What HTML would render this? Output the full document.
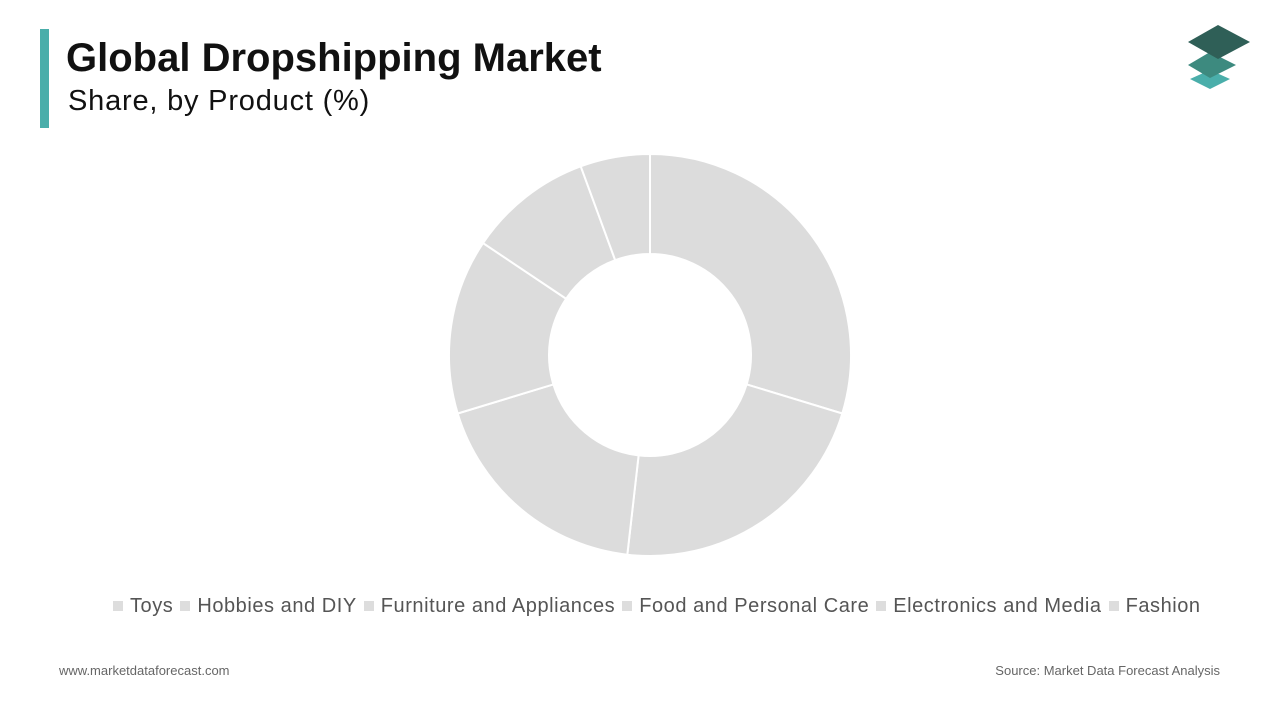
<!DOCTYPE html>
<html><head><meta charset="utf-8">
<style>
body{margin:0;width:1280px;height:720px;background:#fff;font-family:"Liberation Sans",Arial,sans-serif;position:relative;overflow:hidden}
.bar{position:absolute;left:40px;top:29px;width:9px;height:99px;background:#4aaeaa}
.t1{position:absolute;left:66px;top:36px;font-size:40px;font-weight:bold;color:#111}
.t2{position:absolute;left:68px;top:85px;font-size:29px;color:#111;letter-spacing:0.8px}
.legend{position:absolute;top:595px;left:113px;font-size:20px;color:#555;white-space:nowrap;letter-spacing:0.55px}
.li{display:inline-block;margin-right:7px}
.sw{display:inline-block;width:10px;height:10px;background:#ddd;margin-right:7px;vertical-align:1px}
.foot{position:absolute;top:663px;font-size:13px;color:#666}
</style></head><body>
<div class="bar"></div>
<div class="t1">Global Dropshipping Market</div>
<div class="t2">Share, by Product (%)</div>
<svg style="position:absolute;left:1180px;top:20px" width="80" height="75">
<polygon points="30,50 50,59 30,69 10,59" fill="#4aaeaa"/>
<polygon points="30,32 56,45 30,58 8,45" fill="#3d8a7f"/>
<polygon points="38,5 70,22 38,39 8,22" fill="#2f5f57"/>
</svg>
<svg id="chart" style="position:absolute;left:0;top:0" width="1280" height="720"></svg>
<div class="legend" id="legend"></div>
<div class="foot" style="left:59px">www.marketdataforecast.com</div>
<div class="foot" style="right:60px">Source: Market Data Forecast Analysis</div>
<script>
const categories=["Toys","Hobbies and DIY","Furniture and Appliances","Food and Personal Care","Electronics and Media","Fashion"];
const values=[5.6,10.0,14.1,18.5,22.1,29.7];
const drawOrder=[5,4,3,2,1,0];
const svg=document.getElementById('chart');
const cx=650,cy=355,R=201,r=101;
const total=values.reduce((a,b)=>a+b,0);
function pt(a,rad){return [cx+rad*Math.sin(a),cy-rad*Math.cos(a)];}
let acc=0;
drawOrder.forEach(i=>{
  const a0=acc/total*2*Math.PI;acc+=values[i];const a1=acc/total*2*Math.PI;
  const lg=(a1-a0)>Math.PI?1:0;
  const [x0,y0]=pt(a0,R),[x1,y1]=pt(a1,R),[x2,y2]=pt(a1,r),[x3,y3]=pt(a0,r);
  const p=document.createElementNS('http://www.w3.org/2000/svg','path');
  p.setAttribute('d',`M${x0},${y0}A${R},${R} 0 ${lg} 1 ${x1},${y1}L${x2},${y2}A${r},${r} 0 ${lg} 0 ${x3},${y3}Z`);
  p.setAttribute('fill','#dcdcdc');p.setAttribute('stroke','#fff');p.setAttribute('stroke-width','2');
  
  
  svg.appendChild(p);
});
const lg=document.getElementById('legend');
categories.forEach(c=>{
  const s=document.createElement('span');s.className='li';
  s.innerHTML='<span class="sw"></span>'+c;
  
  
  lg.appendChild(s);
});
</script>
</body></html>
